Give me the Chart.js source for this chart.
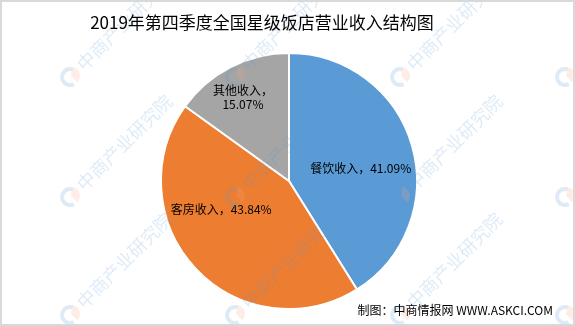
<!DOCTYPE html>
<html lang="zh">
<head>
<meta charset="UTF-8">
<title>2019年第四季度全国星级饭店营业收入结构图</title>
<script src="https://cdn.jsdelivr.net/npm/chart.js"></script>
<style>
  html, body { margin: 0; padding: 0; background: #fff; }
  #wrap { width: 575px; height: 326px; position: relative; }
</style>
</head>
<body>
<div id="wrap"><canvas id="pieChart"></canvas></div>
<script>
// data
const categories = ['餐饮收入', '客房收入', '其他收入'];
const shares = [41.09, 43.84, 15.07];
const sliceColors = ['#5B9BD5', '#ED7D31', '#A5A5A5'];

const titleText = '2019年第四季度全国星级饭店营业收入结构图';
const sourceText = '制图：中商情报网 WWW.ASKCI.COM';
const cjkFont = '"Noto Sans CJK SC", "Noto Sans", sans-serif';

// faint diagonal watermark, frame, title and source line
const decorPlugin = {
    id: 'decor',
    beforeDraw(chart) {
        const ctx = chart.ctx;
        ctx.save();
        ctx.fillStyle = '#fff';
        ctx.fillRect(0, 0, chart.width, chart.height);
        ctx.restore();
    },
    afterDraw(chart) {
        const ctx = chart.ctx;
        ctx.save();
        // watermark grid
        [70, 235, 400, 565].forEach(x => {
            [77, 197, 315].forEach(y => {
                ctx.save();
                ctx.translate(x, y);
                ctx.globalAlpha = 0.2;
                ctx.lineWidth = 4;
                ctx.strokeStyle = '#5B9BD5';
                ctx.beginPath();
                ctx.arc(0, 0, 8, Math.PI * 0.35, Math.PI * 1.6);
                ctx.stroke();
                ctx.fillStyle = '#F4A582';
                ctx.beginPath();
                ctx.moveTo(1, -1);
                ctx.arc(1, -1, 9, -Math.PI * 0.45, Math.PI * 0.25);
                ctx.closePath();
                ctx.fill();
                ctx.rotate(-Math.PI / 4);
                ctx.fillStyle = '#5B9BD5';
                ctx.font = '18px ' + cjkFont;
                ctx.textBaseline = 'middle';
                ctx.fillText('中商产业研究院', 14, 0);
                ctx.restore();
            });
        });
        // frame
        ctx.strokeStyle = '#D9D9D9';
        ctx.lineWidth = 2;
        ctx.strokeRect(1, 1, chart.width - 2, chart.height - 2);
        // title
        ctx.fillStyle = '#000';
        ctx.font = '17px ' + cjkFont;
        ctx.textAlign = 'center';
        ctx.textBaseline = 'middle';
        ctx.fillText(titleText, 262, 23);
        // source
        ctx.font = '12px ' + cjkFont;
        ctx.textAlign = 'right';
        ctx.fillText(sourceText, 553, 310);
        ctx.restore();
    }
};

// data labels placed like Excel's "best fit", offsets as fractions of the radius
const sliceLabelPlugin = {
    id: 'sliceLabels',
    afterDatasetsDraw(chart, args, opts) {
        const ctx = chart.ctx;
        const meta = chart.getDatasetMeta(0);
        ctx.save();
        ctx.fillStyle = '#000';
        ctx.font = '12px ' + cjkFont;
        ctx.textAlign = 'center';
        ctx.textBaseline = 'middle';
        meta.data.forEach((arc, i) => {
            const off = opts.offsets[i];
            const x = arc.x + off[0] * arc.outerRadius;
            const y = arc.y + off[1] * arc.outerRadius;
            const value = shares[i].toFixed(2) + '%';
            if (opts.twoLine[i]) {
                ctx.fillText(categories[i] + '，', x, y - 7);
                ctx.fillText(value, x, y + 7);
            } else {
                ctx.fillText(categories[i] + '，' + value, x, y);
            }
        });
        ctx.restore();
    }
};

new Chart(document.getElementById('pieChart'), {
    type: 'pie',
    data: {
        labels: categories,
        datasets: [{
            data: shares,
            backgroundColor: sliceColors,
            borderColor: '#ffffff',
            borderWidth: 2
        }]
    },
    options: {
        responsive: true,
        maintainAspectRatio: false,
        animation: false,
        layout: { padding: { top: 52, bottom: 16, left: 3, right: 0 } },
        plugins: {
            legend: { display: false },
            title: { display: false },
            tooltip: { enabled: false },
            sliceLabels: {
                offsets: [[0.56, -0.10], [-0.53, 0.22], [-0.36, -0.65]],
                twoLine: [false, false, true]
            }
        }
    },
    plugins: [decorPlugin, sliceLabelPlugin]
});
</script>
</body>
</html>
